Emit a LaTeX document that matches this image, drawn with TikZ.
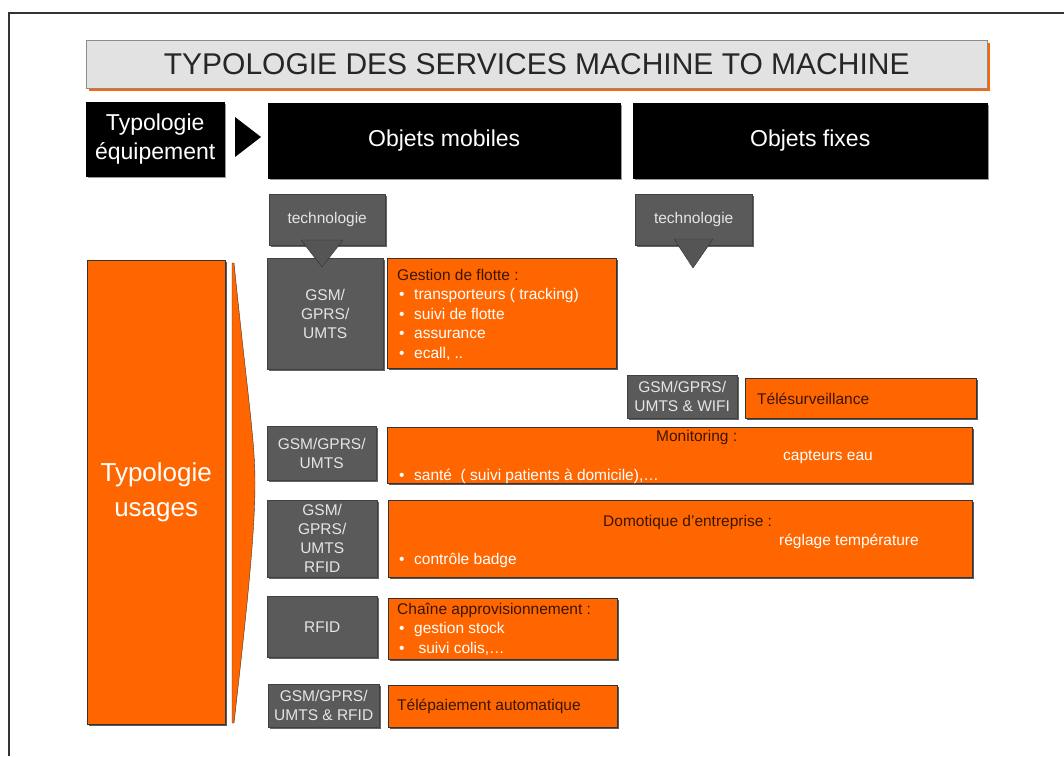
\documentclass[tikz,border=0pt]{standalone}
\usepackage{fontspec}
\setmainfont{Liberation Sans}
\usetikzlibrary{shadows}
\definecolor{m2morange}{HTML}{FF6600}
\definecolor{m2mgray}{HTML}{5A5A5A}
\definecolor{m2mdark}{HTML}{3A1600}
\definecolor{m2mlight}{HTML}{E2E2E2}
\newcommand{\itm}{\makebox[17pt][l]{\hspace{2pt}•}}
\begin{document}
\begin{tikzpicture}[x=1pt,y=-1pt,
	box/.style={anchor=north west,inner sep=0pt,draw},
	head node/.style={box,fill=black,draw=black,text=white,align=center,font=\fontsize{23}{29}\selectfont,general shadow={fill=black!40,shadow xshift=2pt,shadow yshift=-2pt}},
	tech node/.style={box,fill=m2mgray,draw=black!75,text=black!10,align=center,font=\fontsize{15.5}{19}\selectfont,general shadow={fill=black!60,shadow xshift=2pt,shadow yshift=-2pt}},
	use node/.style={box,fill=m2morange,draw=black!80,general shadow={fill=black!65,shadow xshift=2pt,shadow yshift=-2pt}},
	dark txt/.style={anchor=west,inner sep=0pt,text=m2mdark,align=left,font=\fontsize{15.5}{19.5}\selectfont},
	white txt/.style={dark txt,text=white},
	tech tri/.style={fill=m2mgray!95!black,draw=black!80,line join=round}]
	\useasboundingbox (0,0) rectangle (1064,756);
	\draw[line width=2pt,black!80] (9,756) -- (9,13) -- (1064,13);
	
	\node[box,fill=m2mlight,draw=black!45,minimum width=901pt,minimum height=48pt,text=black!85,font=\fontsize{30}{36}\selectfont,general shadow={fill=m2morange,shadow xshift=3pt,shadow yshift=-3pt}] at (86,40) (title) {TYPOLOGIE DES SERVICES MACHINE TO MACHINE};
	
	\node[head node,minimum width=138pt,minimum height=74pt] at (86,102) (equip) {Typologie\\équipement};
	\node[head node,minimum width=352pt,minimum height=75pt] at (268,103) (mobile) {Objets mobiles};
	\node[head node,minimum width=354pt,minimum height=75pt] at (633,103) (fixe) {Objets fixes};
	\fill (235,117) -- (261,137) -- (235,157) -- cycle;
	
	\node[tech node,minimum width=116pt,minimum height=51pt] at (269,194) (tech1) {technologie};
	\node[tech node,minimum width=117pt,minimum height=51pt] at (635,194) (tech2) {technologie};
	
	\node[use node,minimum width=138pt,minimum height=464pt,text=white,align=center,font=\fontsize{26}{35}\selectfont] at (87,260) (usages) {Typologie\\usages};
	\filldraw[fill=m2morange,draw=black!80] (232,263) -- (234,263) .. controls (248,400) and (255,440) .. (255,483) .. controls (255,530) and (248,600) .. (234,723) -- (232,723) -- cycle;
	
	\node[tech node,minimum width=116pt,minimum height=111pt] at (267,258) (gsm1) {GSM/\\GPRS/\\UMTS};
	\node[use node,minimum width=229pt,minimum height=110pt] at (387,258) (flotte) {};
	\node[white txt] at (397,314.5) (flotteT) {{\color{m2mdark}Gestion de flotte :}\\\itm transporteurs ( tracking)\\\itm suivi de flotte\\\itm assurance\\\itm ecall, ..};
	
	\node[tech node,minimum width=110pt,minimum height=43pt] at (627,375) (wifi) {GSM/GPRS/\\UMTS \& WIFI};
	\node[use node,minimum width=231pt,minimum height=40pt] at (745,378) (surv) {};
	\node[dark txt] at (757,399) (survT) {Télésurveillance};
	
	\node[tech node,minimum width=109pt,minimum height=54pt] at (267,426) (gsm3) {GSM/GPRS/\\UMTS};
	\node[use node,minimum width=585pt,minimum height=56pt] at (387,427) (monit) {};
	\node[dark txt] at (656,437) (monitA) {Monitoring :};
	\node[white txt] at (783,457) (monitB) {capteurs eau};
	\node[white txt] at (397,476) (monitC) {\itm santé\ \ ( suivi patients à domicile),…};
	
	\node[tech node,minimum width=110pt,minimum height=77pt] at (267,500) (gsm4) {GSM/\\GPRS/\\UMTS\\RFID};
	\node[use node,minimum width=584pt,minimum height=77pt] at (388,500) (domo) {};
	\node[dark txt] at (603,522) (domoA) {Domotique d’entreprise :};
	\node[white txt] at (779,541) (domoB) {réglage température};
	\node[white txt] at (397,560) (domoC) {\itm contrôle badge};
	
	\node[tech node,minimum width=110pt,minimum height=61pt] at (267,596) (rfid) {RFID};
	\node[use node,minimum width=229pt,minimum height=61pt] at (388,598) (appro) {};
	\node[white txt] at (397,629) (approT) {{\color{m2mdark}Chaîne approvisionnement :}\\\itm gestion stock\\\itm\ suivi colis,…};
	
	\node[tech node,minimum width=111pt,minimum height=43pt] at (268,684) (rfid2) {GSM/GPRS/\\UMTS \& RFID};
	\node[use node,minimum width=229pt,minimum height=42pt] at (388,685) (paie) {};
	\node[dark txt] at (397,706) (paieT) {Télépaiement automatique};
	
	\filldraw[tech tri] (301,240) -- (343,240) -- (322,267) -- cycle;
	\filldraw[tech tri] (674,239) -- (713,239) -- (693,268) -- cycle;
\end{tikzpicture}
\end{document}
